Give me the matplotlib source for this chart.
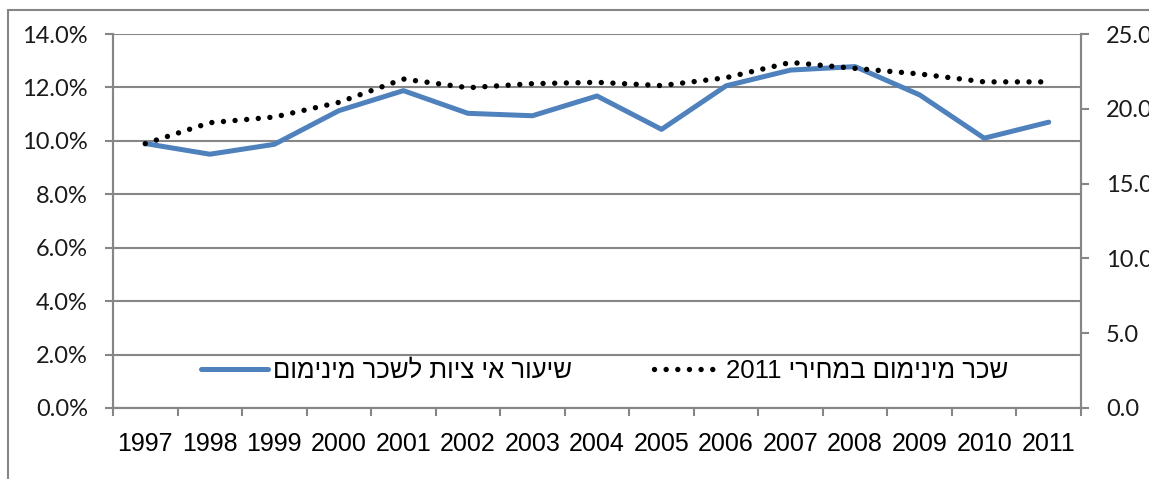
import matplotlib
matplotlib.use("Agg")
import matplotlib.pyplot as plt
from matplotlib.patches import Rectangle
from matplotlib.ticker import FixedLocator, FuncFormatter

plt.rcParams["font.family"] = ["Liberation Sans", "DejaVu Sans"]

years = ["1997", "1998", "1999", "2000", "2001", "2002", "2003", "2004",
         "2005", "2006", "2007", "2008", "2009", "2010", "2011"]
noncompliance_pct = [9.9, 9.5, 9.87, 11.13, 11.88, 11.03, 10.94, 11.68,
                     10.43, 12.06, 12.65, 12.78, 11.72, 10.1, 10.7]
min_wage_2011 = [17.67, 19.07, 19.45, 20.43, 21.99, 21.41, 21.68, 21.77,
                 21.55, 22.08, 23.1, 22.7, 22.33, 21.8, 21.8]
label_blue = "שיעור אי ציות לשכר מינימום"
label_dot = "שכר מינימום במחירי 2011"


def visual_rtl(s):
    # reverse for left-to-right drawing, keeping digit runs in order
    r = s[::-1]
    out, run = [], ""
    for ch in r:
        if ch.isdigit():
            run += ch
        else:
            if run:
                out.append(run[::-1])
                run = ""
            out.append(ch)
    if run:
        out.append(run[::-1])
    return "".join(out)


W, H, DPI = 1149, 479, 100
fig = plt.figure(figsize=(W / DPI, H / DPI), dpi=DPI)
fig.patch.set_facecolor("white")

# outer chart border
fig.patches.append(Rectangle((8 / W, -0.1), 1.2, 1 - 10 / H + 0.1, transform=fig.transFigure,
                             fill=False, edgecolor="#868686", linewidth=1.5))

left, right, bottom, top = 113 / W, 1081 / W, 1 - 408 / H, 1 - 34 / H
ax = fig.add_axes([left, bottom, right - left, top - bottom])
ax2 = ax.twinx()

grid_c = "#868686"
x = list(range(len(years)))

ax.plot(x, noncompliance_pct, color="#4F81BD", linewidth=3.6,
        solid_capstyle="round", solid_joinstyle="round", label=visual_rtl(label_blue))
ax2.plot(x, min_wage_2011, color="black", linewidth=3.9, linestyle=(0, (0.001, 2.15)),
         dash_capstyle="round", label=visual_rtl(label_dot))

ax.set_xlim(-0.5, len(years) - 0.5)
ax.set_ylim(0, 14)
ax2.set_ylim(0, 25)

ax.set_yticks([0, 2, 4, 6, 8, 10, 12, 14])
ax.yaxis.set_major_formatter(FuncFormatter(lambda v, p: f"{v:.1f}%"))
ax2.set_yticks([0, 5, 10, 15, 20, 25])
ax2.yaxis.set_major_formatter(FuncFormatter(lambda v, p: f"{v:.1f}"))

ax.set_xticks(x)
ax.set_xticklabels(years)
ax.xaxis.set_minor_locator(FixedLocator([i - 0.5 for i in range(len(years) + 1)]))
ax.tick_params(axis="x", which="major", length=0, pad=17,
               labelsize=18, labelcolor="black")
ax.tick_params(axis="x", which="minor", length=6, width=1.5, color=grid_c, direction="out")

ax.grid(axis="y", color=grid_c, linewidth=1.5)
ax.set_axisbelow(True)
for a in (ax, ax2):
    a.tick_params(axis="y", length=6, width=1.5, color=grid_c, pad=12,
                  labelsize=17, labelfontfamily="Lato", labelcolor="#1a1a1a")
    a.spines["top"].set_visible(False)
    for s in ("left", "right", "bottom"):
        a.spines[s].set_color(grid_c)
        a.spines[s].set_linewidth(1.5)

h1, l1 = ax.get_legend_handles_labels()
h2, l2 = ax2.get_legend_handles_labels()
leg = ax2.legend(h1 + h2, l1 + l2, loc="center", bbox_to_anchor=(0.508, 0.100), ncol=2,
                 frameon=False, handlelength=2.6, handletextpad=0.2, columnspacing=3.2,
                 prop={"family": ["Liberation Sans", "DejaVu Sans"], "size": 18.5})

fig.savefig("out.png", dpi=DPI, facecolor="white")
